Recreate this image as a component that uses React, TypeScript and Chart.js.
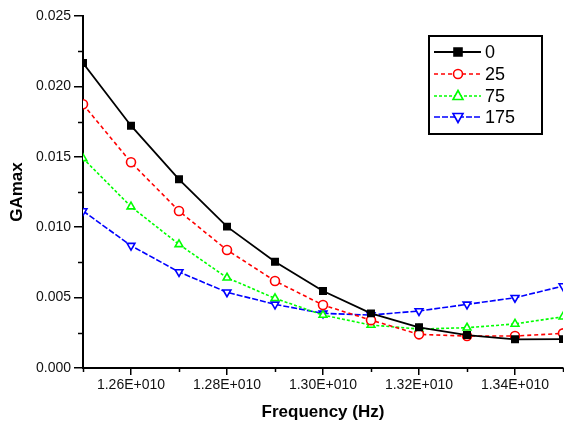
import React, { useEffect, useRef } from 'react';
import { Chart, registerables } from 'chart.js';

Chart.register(...registerables);

const frequencies = [1.25e10, 1.26e10, 1.27e10, 1.28e10, 1.29e10, 1.30e10, 1.31e10, 1.32e10, 1.33e10, 1.34e10, 1.35e10];
const seriesLabels = ['0', '25', '75', '175'];
const gamax0 = [0.02166, 0.01721, 0.01340, 0.01004, 0.00755, 0.00547, 0.00388, 0.00289, 0.00234, 0.00204, 0.00205];
const gamax25 = [0.01873, 0.01461, 0.01115, 0.00838, 0.00618, 0.00447, 0.00340, 0.00239, 0.00227, 0.00227, 0.00246];
const gamax75 = [0.01489, 0.01146, 0.00878, 0.00641, 0.00495, 0.00376, 0.00305, 0.00277, 0.00286, 0.00313, 0.00364];
const gamax175 = [0.01115, 0.00869, 0.00682, 0.00538, 0.00452, 0.00388, 0.00376, 0.00405, 0.00452, 0.00499, 0.00582];

const yMajorTicks = [0, 0.005, 0.01, 0.015, 0.02, 0.025];
const yMinorTicks = [0.0025, 0.0075, 0.0125, 0.0175, 0.0225];
const xMajorTicks = [1.26e10, 1.28e10, 1.30e10, 1.32e10, 1.34e10];
const xMinorTicks = [1.25e10, 1.27e10, 1.29e10, 1.31e10, 1.33e10, 1.35e10];

const xTitle = 'Frequency (Hz)';
const yTitle = 'GAmax';

const FONT = '"Liberation Sans", Arial, sans-serif';

const styles = [
  { color: '#000000', dash: [] as number[], width: 1.8, shape: 'rect', fill: '#000000' },
  { color: '#ff0000', dash: [4, 3], width: 1.6, shape: 'circle', fill: '#ffffff' },
  { color: '#00ff00', dash: [3, 2], width: 1.6, shape: 'triangle', fill: '#ffffff' },
  { color: '#0000ff', dash: [6, 2], width: 1.6, shape: 'invtriangle', fill: '#ffffff' },
];

function drawMarker(ctx: CanvasRenderingContext2D, shape: string, x: number, y: number, color: string, fill: string) {
  ctx.save();
  ctx.setLineDash([]);
  ctx.strokeStyle = color;
  ctx.fillStyle = fill;
  ctx.lineWidth = 1.6;
  ctx.beginPath();
  if (shape === 'rect') {
    ctx.rect(x - 4, y - 4, 8, 8);
  } else if (shape === 'circle') {
    ctx.arc(x, y, 4.5, 0, Math.PI * 2);
  } else if (shape === 'triangle') {
    ctx.moveTo(x, y - 5.5);
    ctx.lineTo(x + 5, y + 3.5);
    ctx.lineTo(x - 5, y + 3.5);
    ctx.closePath();
  } else {
    ctx.moveTo(x, y + 5.5);
    ctx.lineTo(x + 5, y - 3.5);
    ctx.lineTo(x - 5, y - 3.5);
    ctx.closePath();
  }
  ctx.fill();
  ctx.stroke();
  ctx.restore();
}

const decorPlugin = {
  id: 'decor',
  afterDraw(chart: any) {
    const ctx: CanvasRenderingContext2D = chart.ctx;
    const area = chart.chartArea;
    const xs = chart.scales.x;
    const ys = chart.scales.y;
    ctx.save();
    ctx.strokeStyle = '#000';
    ctx.lineWidth = 1.5;
    ctx.setLineDash([]);
    yMinorTicks.forEach((v) => {
      const py = Math.round(ys.getPixelForValue(v)) + 0.5;
      ctx.beginPath();
      ctx.moveTo(area.left - 5, py);
      ctx.lineTo(area.left, py);
      ctx.stroke();
    });
    xMinorTicks.forEach((v) => {
      const px = Math.round(xs.getPixelForValue(v)) + 0.5;
      ctx.beginPath();
      ctx.moveTo(px, area.bottom);
      ctx.lineTo(px, area.bottom + 4);
      ctx.stroke();
    });

    // titles
    ctx.fillStyle = '#000';
    ctx.font = `bold 17px ${FONT}`;
    ctx.textAlign = 'center';
    ctx.textBaseline = 'middle';
    ctx.fillText(xTitle, (area.left + area.right) / 2, 412);
    ctx.save();
    ctx.translate(17.5, (area.top + area.bottom) / 2);
    ctx.rotate(-Math.PI / 2);
    ctx.fillText(yTitle, 0, 0);
    ctx.restore();

    // legend
    ctx.fillStyle = '#fff';
    ctx.fillRect(429, 36, 113, 98);
    ctx.lineWidth = 2;
    ctx.strokeStyle = '#000';
    ctx.strokeRect(429, 36, 113, 98);
    const rows = [52, 74, 96, 117];
    ctx.font = `18px ${FONT}`;
    ctx.textAlign = 'left';
    seriesLabels.forEach((label, i) => {
      const s = styles[i];
      const y = rows[i];
      ctx.save();
      ctx.strokeStyle = s.color;
      ctx.lineWidth = s.width;
      ctx.setLineDash(s.dash);
      ctx.beginPath();
      ctx.moveTo(434, y);
      ctx.lineTo(481, y);
      ctx.stroke();
      ctx.restore();
      drawMarker(ctx, s.shape, 458, y, s.color, s.fill);
      ctx.fillStyle = '#000';
      ctx.fillText(label, 485, y + 1);
    });
    ctx.restore();
  },
};

export default function App() {
  const canvasRef = useRef<HTMLCanvasElement | null>(null);

  useEffect(() => {
    if (!canvasRef.current) return;
    const seriesData = [gamax0, gamax25, gamax75, gamax175];
    const datasets = seriesData.map((vals, i) => {
      const s = styles[i];
      return {
        label: seriesLabels[i],
        data: frequencies.map((f, j) => ({ x: f, y: vals[j] })),
        borderColor: s.color,
        backgroundColor: s.fill,
        borderWidth: s.width,
        borderDash: s.dash,
        pointStyle: s.shape === 'invtriangle' ? 'triangle' : s.shape,
        pointRotation: s.shape === 'invtriangle' ? 180 : 0,
        pointRadius: 4.5,
        pointBorderWidth: 1.6,
        pointBorderColor: s.color,
        pointBackgroundColor: s.fill,
        tension: 0,
        fill: false,
      };
    });

    const chart = new Chart(canvasRef.current, {
      type: 'line',
      data: { datasets },
      plugins: [decorPlugin],
      options: {
        animation: false,
        responsive: false,
        maintainAspectRatio: false,
        layout: { autoPadding: false, padding: { top: 16, right: 1, left: 0, bottom: 0 } },
        plugins: {
          legend: { display: false },
          tooltip: { enabled: false },
        },
        scales: {
          x: {
            type: 'linear',
            min: 1.25e10,
            max: 1.35e10,
            afterBuildTicks: (scale: any) => {
              scale.ticks = xMajorTicks.map((v) => ({ value: v }));
            },
            afterFit: (scale: any) => {
              scale.height = 58;
              scale.paddingLeft = 0;
              scale.paddingRight = 0;
            },
            ticks: {
              callback: (v: any) => (Number(v) / 1e10).toFixed(2) + 'E+010',
              font: { family: FONT, size: 14 },
              color: '#111',
              padding: 2,
              maxRotation: 0,
              autoSkip: false,
            },
            grid: {
              display: true,
              drawOnChartArea: false,
              drawTicks: true,
              tickLength: 7,
              color: '#000',
              lineWidth: 1.5,
            },
            border: { display: true, color: '#000', width: 2 },
          },
          y: {
            type: 'linear',
            min: 0,
            max: 0.025,
            afterBuildTicks: (scale: any) => {
              scale.ticks = yMajorTicks.map((v) => ({ value: v }));
            },
            afterFit: (scale: any) => {
              scale.width = 83;
              scale.paddingTop = 0;
              scale.paddingBottom = 0;
            },
            ticks: {
              callback: (v: any) => Number(v).toFixed(3),
              font: { family: FONT, size: 14 },
              color: '#111',
              padding: 3,
            },
            grid: {
              display: true,
              drawOnChartArea: false,
              drawTicks: true,
              tickLength: 9,
              color: '#000',
              lineWidth: 1.5,
            },
            border: { display: true, color: '#000', width: 2 },
          },
        },
      },
    } as any);

    return () => {
      chart.destroy();
    };
  }, []);

  return (
    <div style={{ position: 'absolute', left: 0, top: 0, width: 564, height: 426, background: '#fff' }}>
      <canvas ref={canvasRef} width={564} height={426} style={{ display: 'block' }} />
    </div>
  );
}
